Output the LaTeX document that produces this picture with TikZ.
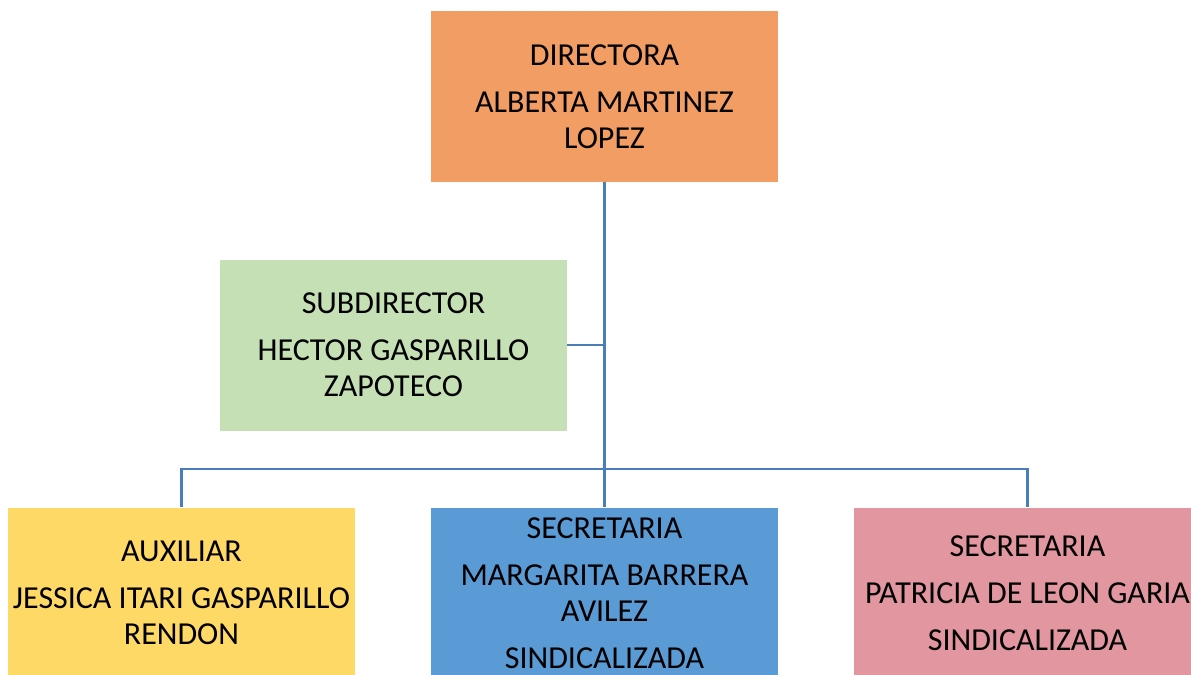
\documentclass[tikz,border=0pt]{standalone}
\usepackage{fontspec}
\setmainfont{Carlito}
\usepackage{tikz}
\usetikzlibrary{positioning}

\definecolor{dirorange}{RGB}{242,157,99}
\definecolor{subgreen}{RGB}{197,224,180}
\definecolor{auxyellow}{RGB}{255,217,102}
\definecolor{secblue}{RGB}{91,155,213}
\definecolor{secpink}{RGB}{226,150,160}
\definecolor{orgline}{RGB}{74,126,187}

\begin{document}
\begin{tikzpicture}[x=0.5pt,y=-0.5pt,
  box/.style={minimum width=173.5pt,minimum height=85.5pt,inner sep=0pt,
    align=center,font=\fontsize{16}{18}\selectfont},
  link/.style={draw=orgline,line width=1.3pt}]
  \useasboundingbox (0,0) rectangle (1191,675);
  \clip (0,0) rectangle (1191,675);
  \node[box,fill=dirorange] (dir) at (604.5,96.5) {DIRECTORA\\[5.5pt] ALBERTA MARTINEZ\\LOPEZ};
  \node[box,fill=subgreen] (sub) at (393.5,345) {SUBDIRECTOR\\[5.5pt] HECTOR GASPARILLO\\ZAPOTECO};
  \node[box,fill=auxyellow] (aux) at (181.5,593) {AUXILIAR\\[5.5pt] JESSICA ITARI GASPARILLO\\RENDON};
  \node[box,fill=secblue] (sec1) at (604.5,593) {SECRETARIA\\[5.5pt] MARGARITA BARRERA\\AVILEZ\\[5.5pt] SINDICALIZADA};
  \node[box,fill=secpink] (sec2) at (1027.5,593) {SECRETARIA\\[5.5pt] PATRICIA DE LEON GARIA\\[5.5pt] SINDICALIZADA};
  \coordinate (bus) at (604.5,469);
  \draw[link] (dir.south) -- (sec1.north);
  \draw[link] (sub.east) -- (sub.east -| dir.south);
  \draw[link] (aux.north) |- (bus) -| (sec2.north);
\end{tikzpicture}
\end{document}
